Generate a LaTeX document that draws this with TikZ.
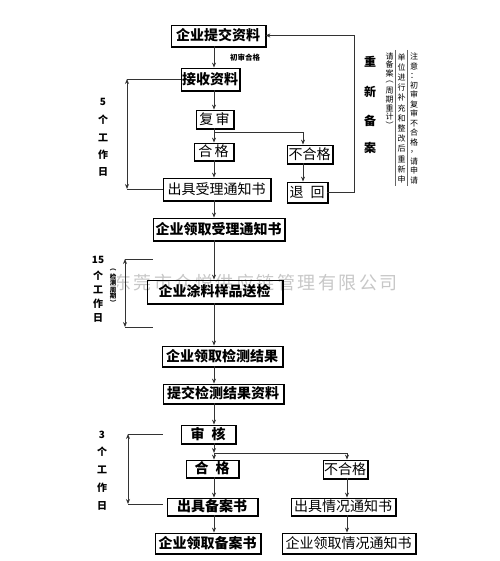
\documentclass[tikz,border=0pt]{standalone}
\usepackage{fontspec}
\setmainfont{Noto Sans CJK SC}
\usetikzlibrary{arrows.meta}
\begin{document}
\begin{tikzpicture}[x=1pt,y=-1pt,
  box/.style={draw=black, line width=0.8pt, inner sep=0pt,
    font=\fontsize{14}{15}\selectfont},
  bbox/.style={box, font=\fontsize{14}{15}\selectfont\bfseries},
  shadowln/.style={draw=black, line width=0.9pt},
  ln/.style={line width=0.9pt, draw=black!80},
  arr/.style={ln, -{Stealth[length=5pt,width=4pt]}},
  darr/.style={ln, {Stealth[length=5pt,width=4pt]}-{Stealth[length=5pt,width=4pt]}},
  lab/.style={font=\fontsize{10}{10}\selectfont\bfseries, inner sep=0pt},
  note/.style={font=\fontsize{8}{8}\selectfont, inner sep=0pt},
  wm/.style={font=\fontsize{18}{18}\selectfont, text=black!22, inner sep=0pt},
  tiny/.style={font=\fontsize{6.5}{6.5}\selectfont\bfseries, inner sep=0.5pt, fill=white}]
\useasboundingbox (0,0) rectangle (499,561);

% watermark
\foreach \t [count=\i] in {东,莞,市,众,悦,供,应,链,管,理,有,限,公,司}
  \node[wm] (w\i) at (122+20.5*\i-20.5,283) {\t};

% boxes
\node[bbox, minimum width=94pt, minimum height=21pt] (b1) at (218,35.5) {企业提交资料};
\node[bbox, minimum width=58pt, minimum height=22pt] (b2) at (210,79) {接收资料};
\node[box, minimum width=37pt, minimum height=18pt] (b3) at (214.5,119) {复\,审};
\node[box, minimum width=39pt, minimum height=17pt] (b4) at (213.5,151.5) {合\,格};
\node[box, minimum width=107pt, minimum height=22pt] (b5) at (216.5,189) {出具受理通知书};
\node[box, minimum width=45pt, minimum height=18pt] (b6) at (309.5,154) {不合格};
\node[box, minimum width=40pt, minimum height=20pt] (b7) at (307,192) {退\enspace 回};
\node[bbox, minimum width=131pt, minimum height=22pt] (b8) at (218.5,229) {企业领取受理通知书};
\node[bbox, minimum width=135pt, minimum height=23pt] (b9) at (214.5,291.5) {企业涂料样品送检};
\node[bbox, minimum width=120pt, minimum height=20pt] (b10) at (222,356) {企业领取检测结果};
\node[bbox, minimum width=120pt, minimum height=19pt] (b11) at (223,393.5) {提交检测结果资料};
\node[bbox, minimum width=54pt, minimum height=18pt] (b12) at (208,434) {审\enspace 核};
\node[bbox, minimum width=52pt, minimum height=17pt] (b13) at (212,468.5) {合\enspace 格};
\node[box, minimum width=44pt, minimum height=18pt] (b14) at (345,469) {不合格};
\node[bbox, minimum width=90pt, minimum height=17pt] (b15) at (212,506.5) {出具备案书};
\node[box, minimum width=104pt, minimum height=17pt] (b16) at (343,506.5) {出具情况通知书};
\node[bbox, minimum width=105pt, minimum height=20pt] (b17) at (207.5,543) {企业领取备案书};
\node[box, minimum width=133pt, minimum height=20pt] (b18) at (348.5,543) {企业领取情况通知书};

% box shadows (thicker right and bottom edges)
\foreach \n in {b1,b2,b3,b4,b5,b6,b7,b8,b9,b10,b11,b12,b13,b14,b15,b16,b17,b18}
  \draw[shadowln] ([shift={(0.8pt,-0.8pt)}]\n.north east) |- ([shift={(0.8pt,-0.8pt)}]\n.south west);

% axes
\coordinate (ax) at (214,0);
\coordinate (axr) at (303,0);
\coordinate (axb) at (347,0);

% main arrows
\draw[arr] (b1.south -| ax) -- (b2.north -| ax);
\node[font=\fontsize{7.5}{7.5}\selectfont\bfseries, inner sep=0pt] (l1) at (245,58) {初审合格};
\draw[arr] (b2.south -| ax) -- (b3.north -| ax);
\coordinate (j1) at (214,132);
\draw[arr] (b3.south -| ax) -- (b4.north -| ax);
\draw[arr] (j1) -| (b6.north -| axr);
\draw[arr] (b4.south -| ax) -- (b5.north -| ax);
\draw[arr] (b6.south -| axr) -- (b7.north -| axr);
\draw[arr] (b7.east) -- ++(27,0) |- (b1.east);
\draw[arr] (b5.south -| ax) -- (b8.north -| ax);
\draw[arr] (b8.south -| ax) -- (b9.north -| ax);
\draw[arr] (b9.south -| ax) -- (b10.north -| ax);
\draw[arr] (b10.south -| ax) -- (b11.north -| ax);
\draw[arr] (b11.south -| ax) -- (b12.north -| ax);
\coordinate (j2) at (214,453);
\draw[arr] (b12.south -| ax) -- (j2);
\draw[arr] (j2) -- (b13.north -| ax);
\draw[arr] (j2) -| (b14.north -| axb);
\draw[arr] (b13.south -| ax) -- (b15.north -| ax);
\draw[arr] (b15.south -| ax) -- (b17.north -| ax);
\draw[arr] (b14.south -| axb) -- (b16.north -| axb);
\draw[arr] (b16.south -| axb) -- (b18.north -| axb);

% brackets
\coordinate (k1t) at (127,79);
\coordinate (k1b) at (127,189);
\draw[ln] (k1t) -- (b2.west);
\draw[ln] (k1b) -- (b5.west);
\draw[darr] (k1t) -- (k1b);

\coordinate (k2t) at (125,259);
\coordinate (k2te) at (153,259);
\coordinate (k2b) at (125,327);
\coordinate (k2be) at (153,327);
\draw[ln] (k2t) -- (k2te);
\draw[ln] (k2b) -- (k2be);
\draw[darr] (k2t) -- (k2b);

\coordinate (k3t) at (128,434);
\coordinate (k3te) at (163,434);
\coordinate (k3b) at (128,504);
\coordinate (k3be) at (163,504);
\draw[ln] (k3t) -- (k3te);
\draw[ln] (k3b) -- (k3be);
\draw[darr] (k3t) -- (k3b);

% left labels
\foreach \t/\y [count=\i] in {5/102,个/120,工/138,作/155,日/172}
  \node[lab] (d1-\i) at (103,\y) {\t};
\foreach \t/\y [count=\i] in {15/260,个/276,工/290,作/304,日/318}
  \node[lab] (d2-\i) at (98,\y) {\t};
\foreach \t/\y [count=\i] in {3/435,个/452,工/470,作/488,日/506}
  \node[lab] (d3-\i) at (102,\y) {\t};
\foreach \t [count=\i] in {︵,检,测,周,期,︶}
  \node[tiny] (c\i) at (113,267+6.5*\i-3.25) {\t};

% right vertical texts
\foreach \t/\y [count=\i] in {重/62,新/92,备/121,案/148}
  \node[font=\fontsize{12}{12}\selectfont\bfseries, inner sep=0pt] (r\i) at (370,\y) {\t};
\coordinate (v1t) at (395.5,50);
\coordinate (v1b) at (395.5,186);
\coordinate (v2t) at (407.5,50);
\coordinate (v2b) at (407.5,186);
\draw[black!60, line width=0.5pt] (v1t) -- (v1b);
\draw[black!60, line width=0.5pt] (v2t) -- (v2b);
\foreach \t [count=\i] in {注,意,：,初,审,复,审,不,合,格,，,请,申,请}
  \node[note] (n3-\i) at (414,52+9.5*\i-4.75) {\t};
\foreach \t [count=\i] in {单,位,进,行,补,充,和,整,改,后,重,新,申}
  \node[note] (n2-\i) at (401.5,52+10.2*\i-5.1) {\t};
\foreach \t [count=\i] in {请,备,案,︵,周,期,重,计,︶}
  \node[note] (n1-\i) at (389.5,52+8.6*\i-4.3) {\t};
\end{tikzpicture}
\end{document}
